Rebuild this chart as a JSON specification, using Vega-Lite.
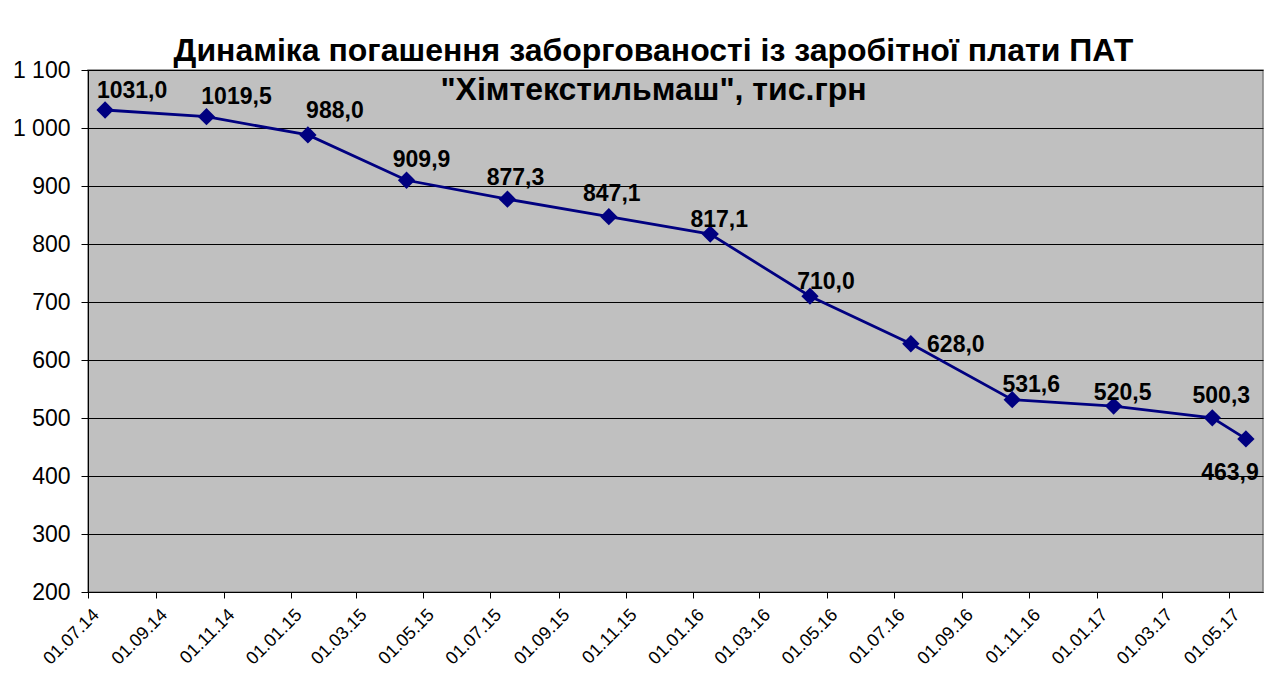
{
  "$schema": "https://vega.github.io/schema/vega-lite/v6.json",
  "width": 1175,
  "height": 522,
  "autosize": "none",
  "padding": {"left": 88, "top": 70, "right": 24, "bottom": 83},
  "background": "white",
  "title": {
    "text": ["Динаміка погашення заборгованості  із заробітної плати ПАТ", "\"Хімтекстильмаш\", тис.грн"],
    "font": "Liberation Sans",
    "fontSize": 32,
    "fontWeight": "bold",
    "color": "black",
    "anchor": "middle",
    "offset": -48,
    "lineHeight": 39,
    "dx": -22
  },
  "config": {
    "view": {"fill": "#C0C0C0", "stroke": "#808080", "strokeWidth": 1.5},
    "axis": {"labelFont": "Liberation Sans", "labelColor": "black", "domainColor": "black", "tickColor": "black", "gridColor": "black", "gridOpacity": 1, "title": null}
  },
  "data": {
    "values": [
      {"date": "2014-07-01", "v": 1031.0},
      {"date": "2014-10-01", "v": 1019.5},
      {"date": "2015-01-01", "v": 988.0},
      {"date": "2015-04-01", "v": 909.9},
      {"date": "2015-07-01", "v": 877.3},
      {"date": "2015-10-01", "v": 847.1},
      {"date": "2016-01-01", "v": 817.1},
      {"date": "2016-04-01", "v": 710.0},
      {"date": "2016-07-01", "v": 628.0},
      {"date": "2016-10-01", "v": 531.6},
      {"date": "2017-01-01", "v": 520.5},
      {"date": "2017-04-01", "v": 500.3},
      {"date": "2017-05-01", "v": 463.9}
    ]
  },
  "encoding": {
    "x": {
      "field": "date",
      "type": "temporal",
      "timeUnit": "yearmonth",
      "bandPosition": 0.5,
      "scale": {"domain": [{"year": 2014, "month": 7, "date": 1}, {"year": 2017, "month": 6, "date": 1}]},
      "axis": {
        "values": [
          {"year": 2014, "month": 7, "date": 1}, {"year": 2014, "month": 9, "date": 1}, {"year": 2014, "month": 11, "date": 1},
          {"year": 2015, "month": 1, "date": 1}, {"year": 2015, "month": 3, "date": 1}, {"year": 2015, "month": 5, "date": 1},
          {"year": 2015, "month": 7, "date": 1}, {"year": 2015, "month": 9, "date": 1}, {"year": 2015, "month": 11, "date": 1},
          {"year": 2016, "month": 1, "date": 1}, {"year": 2016, "month": 3, "date": 1}, {"year": 2016, "month": 5, "date": 1},
          {"year": 2016, "month": 7, "date": 1}, {"year": 2016, "month": 9, "date": 1}, {"year": 2016, "month": 11, "date": 1},
          {"year": 2017, "month": 1, "date": 1}, {"year": 2017, "month": 3, "date": 1}, {"year": 2017, "month": 5, "date": 1}
        ],
        "format": "%d.%m.%y",
        "formatType": "time",
        "labelAngle": -45,
        "labelAlign": "right",
        "labelBaseline": "middle",
        "labelFontSize": 18,
        "labelPadding": 14,
        "labelOffset": 8,
        "tickSize": 6,
        "grid": false,
        "labelOverlap": false,
        "labelFlush": false
      }
    },
    "y": {
      "field": "v",
      "type": "quantitative",
      "scale": {"domain": [200, 1100], "nice": false, "zero": false},
      "axis": {
        "values": [200, 300, 400, 500, 600, 700, 800, 900, 1000, 1100],
        "labelExpr": "replace(format(datum.value, ','), ',', ' ')",
        "labelFontSize": 23,
        "tickSize": 7,
        "labelPadding": 11,
        "grid": true
      }
    }
  },
  "layer": [
    {"mark": {"type": "line", "color": "#000080", "strokeWidth": 2.8}},
    {"mark": {"type": "point", "shape": "diamond", "filled": true, "color": "#000080", "size": 300, "opacity": 1}},
    {
      "mark": {
        "type": "text",
        "font": "Liberation Sans",
        "fontSize": 23,
        "fontWeight": "bold",
        "color": "black",
        "baseline": "middle",
        "text": {"expr": "replace(format(datum.v, '.1f'), '.', ',')"},
        "dx": {"expr": "datum.v == 1031 ? 27 : datum.v == 1019.5 ? 30 : datum.v == 988 ? 27 : datum.v == 909.9 ? 15 : datum.v == 877.3 ? 8 : datum.v == 847.1 ? 3 : datum.v == 817.1 ? 9 : datum.v == 710 ? 16 : datum.v == 628 ? 45 : datum.v == 531.6 ? 19 : datum.v == 520.5 ? 9 : datum.v == 500.3 ? 9 : -16"},
        "dy": {"expr": "datum.v == 1031 ? -19 : datum.v == 1019.5 ? -20 : datum.v == 988 ? -24 : datum.v == 909.9 ? -20 : datum.v == 877.3 ? -21 : datum.v == 847.1 ? -23 : datum.v == 817.1 ? -14 : datum.v == 710 ? -14 : datum.v == 628 ? 1 : datum.v == 531.6 ? -15 : datum.v == 520.5 ? -13 : datum.v == 500.3 ? -22 : 34"}
      }
    }
  ]
}
